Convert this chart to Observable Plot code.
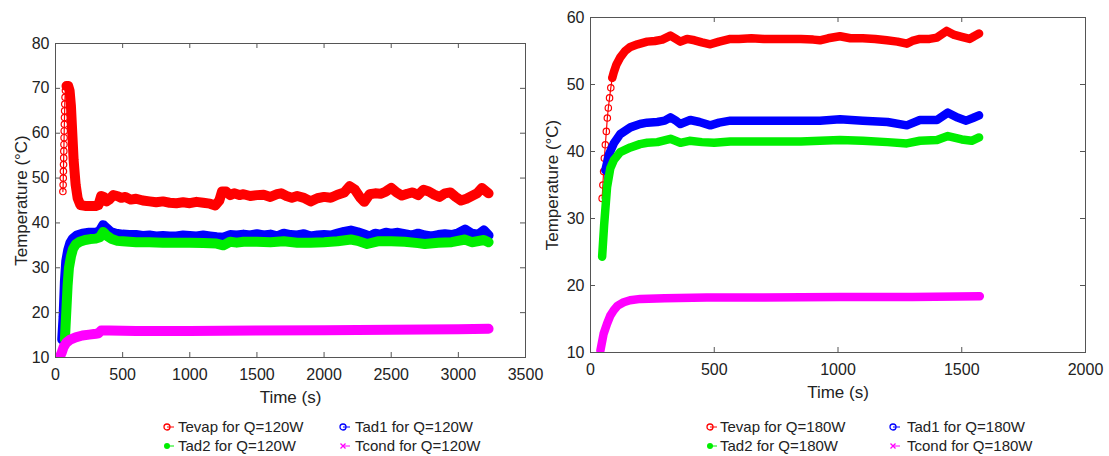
<!DOCTYPE html>
<html><head><meta charset="utf-8">
<script src="https://cdn.jsdelivr.net/npm/d3@7"></script>
<script src="https://cdn.jsdelivr.net/npm/@observablehq/plot@0.6"></script>
<style>
body{margin:0;background:#fff;font-family:"Liberation Sans",Arial,sans-serif;}
#wrap{position:relative;width:1109px;height:456px;overflow:hidden;background:#fff}
.chart{position:absolute;top:0}
.leg{position:absolute;font-size:15px;color:#222;white-space:nowrap;height:18px;line-height:18px}
.leg svg{position:absolute;left:0;top:3px}
.leg span{position:absolute;top:0}
</style></head>
<body><div id="wrap"></div>
<script>
// ---------- Left chart: Q = 120 W ----------
const xTicks120 = [0, 500, 1000, 1500, 2000, 2500, 3000, 3500];
const yTicks120 = [10, 20, 30, 40, 50, 60, 70, 80];
const tevapRise120 = [[55,47],[57,48.5],[58,50],[59,51.5],[60,53],[61,54.5],[62,56],[63,57.5],[64,59],[65,60.5],[66,62],[67,63.5],[68,65],[69,66.5],[71,68],[74,69.5],[78,70.5]];
const tevap120 = [[82,70.5],[95,70.5],[105,69.5],[115,66],[125,60],[135,54],[150,48.5],[165,45.5],[185,44],[220,43.8],[260,43.8],[300,43.8],[320,44],[340,46],[360,45.8],[380,44.8],[400,45.2],[430,46.2],[460,46],[490,45.6],[520,45.8],[560,45.2],[600,45.4],[650,45],[700,44.8],[750,44.6],[800,44.8],[850,44.5],[900,44.4],[950,44.6],[1000,44.4],[1050,44.7],[1100,44.5],[1150,44.3],[1190,43.9],[1220,45],[1240,47],[1270,47],[1300,46.2],[1330,46.6],[1370,46.2],[1400,46.4],[1450,46],[1500,46.2],[1550,46.3],[1600,45.8],[1650,46.4],[1680,46.6],[1720,46],[1760,45.6],[1800,46],[1850,45.6],[1900,44.8],[1950,45.5],[2000,45.8],[2050,45.6],[2100,46.3],[2150,46.8],[2190,48.2],[2230,47.4],[2270,45.6],[2300,44.7],[2340,46.4],[2380,46.6],[2420,46.5],[2460,47],[2500,47.8],[2540,46.8],[2580,46.1],[2620,46.5],[2660,46.8],[2700,46.2],[2740,47.4],[2780,47],[2820,46.3],[2860,45.8],[2900,46.6],[2940,46.8],[2980,45.8],[3020,45],[3060,45.4],[3100,46],[3140,46.6],[3175,47.8],[3200,47.2],[3225,46.6]];
const tad1_120 = [[50,14],[60,19],[70,27],[80,31.5],[95,34],[110,35.5],[130,36.5],[160,37.2],[200,37.6],[250,37.8],[300,37.8],[330,38.2],[355,39.5],[380,38.8],[410,38],[450,37.6],[500,37.4],[550,37.3],[600,37.3],[650,37.1],[700,37.2],[750,37],[800,37.1],[850,37],[900,37],[950,37.2],[1000,37.1],[1050,37],[1100,37.2],[1150,37],[1200,36.8],[1250,36.7],[1300,37.3],[1350,37.2],[1400,37.4],[1450,37.2],[1500,37.5],[1550,37.2],[1600,37.4],[1650,37],[1700,37.6],[1750,37.3],[1800,37.2],[1850,37.5],[1900,37],[1950,37.2],[2000,37.3],[2050,37.2],[2100,37.6],[2150,38],[2200,38.3],[2250,37.9],[2300,37.4],[2340,37],[2380,37.6],[2420,37.4],[2460,37.8],[2500,37.6],[2550,37.8],[2600,37.5],[2650,37.2],[2700,37.6],[2750,37.2],[2800,37],[2850,37.3],[2900,37.5],[2950,37.3],[3000,37.7],[3050,38.5],[3100,37.6],[3150,37.4],[3190,38.3],[3225,37.2]];
const tad2_120 = [[70,14],[80,20],[90,26],[100,30],[115,32.5],[130,34.2],[150,35.2],[180,35.8],[220,36.2],[260,36.4],[300,36.5],[330,36.8],[355,38],[380,37.2],[420,36.4],[460,36],[500,35.9],[550,35.8],[600,35.7],[700,35.7],[800,35.6],[900,35.6],[1000,35.6],[1100,35.5],[1200,35.4],[1250,35],[1300,35.8],[1350,35.6],[1400,35.8],[1500,35.8],[1600,35.7],[1700,35.9],[1800,35.6],[1900,35.6],[2000,35.7],[2100,35.9],[2200,36.3],[2250,36],[2320,35.3],[2400,35.9],[2500,35.9],[2600,35.8],[2700,35.5],[2750,35.3],[2850,35.6],[2950,35.7],[3050,36.3],[3100,35.7],[3190,36.2],[3225,35.7]];
const tcond120 = [[30,10],[45,11],[60,12.3],[80,13.3],[110,14],[150,14.5],[200,14.9],[250,15.1],[300,15.3],[320,15.4],[340,16],[400,16],[600,15.9],[1000,15.9],[1500,16],[2000,16.1],[2500,16.2],[3000,16.3],[3225,16.4]];

// ---------- Right chart: Q = 180 W ----------
const xTicks180 = [0, 500, 1000, 1500, 2000];
const yTicks180 = [10, 20, 30, 40, 50, 60];
const tevapRise180 = [[47,33],[50,35],[53,37],[56,39],[60,41],[64,43],[68,45],[72,46.5],[77,48],[82,49.5],[88,51]];
const tevap180 = [[88,51],[94,51.8],[105,53],[121,54.1],[140,55],[161,55.6],[190,56],[229,56.4],[260,56.5],[290,56.7],[323,57.3],[345,56.8],[363,56.4],[390,56.8],[420,56.6],[450,56.3],[484,56],[520,56.4],[565,56.8],[600,56.8],[650,56.9],[700,56.8],[750,56.8],[800,56.8],[850,56.8],[900,56.7],[927,56.6],[960,56.9],[1008,57.2],[1050,56.9],[1100,56.9],[1150,56.8],[1197,56.6],[1240,56.4],[1278,56.1],[1300,56.5],[1331,56.8],[1370,56.8],[1400,57],[1439,58],[1470,57.4],[1500,57.1],[1532,56.8],[1550,57.2],[1570,57.6]];
const tad1Rise180 = [[40,25.7],[50,32],[60,37.2]];
const tad1_180 = [[60,37.2],[75,39.6],[94,41.2],[120,42.6],[161,43.6],[200,44.1],[229,44.3],[270,44.4],[300,44.6],[323,45.1],[345,44.6],[363,44.1],[403,44.7],[440,44.4],[484,43.9],[520,44.3],[565,44.6],[650,44.6],[750,44.6],[850,44.6],[927,44.6],[1008,44.8],[1100,44.6],[1200,44.4],[1278,43.9],[1331,44.7],[1400,44.7],[1444,45.8],[1480,45.1],[1518,44.6],[1545,45],[1570,45.4]];
const tad2_180 = [[47,24.3],[55,29],[67,34.7],[80,37.5],[94,38.7],[120,39.9],[161,40.6],[200,41.1],[229,41.3],[270,41.4],[323,41.9],[363,41.3],[400,41.6],[450,41.4],[500,41.3],[565,41.5],[650,41.5],[750,41.5],[850,41.5],[927,41.6],[1008,41.7],[1100,41.6],[1200,41.4],[1278,41.2],[1331,41.6],[1400,41.7],[1444,42.3],[1500,41.8],[1540,41.6],[1570,42.1]];
const tcond180 = [[40,10.3],[53,12.8],[67,14.3],[80,15.5],[94,16.3],[110,17],[134,17.5],[160,17.8],[202,18],[300,18.1],[470,18.2],[700,18.2],[1008,18.3],[1300,18.3],[1573,18.4]];

const legend120 = ["Tevap for Q=120W", "Tad1 for Q=120W", "Tad2 for Q=120W", "Tcond for Q=120W"];
const legend180 = ["Tevap for Q=180W", "Tad1 for Q=180W", "Tad2 for Q=180W", "Tcond for Q=180W"];

const RED = "#ff0000", BLUE = "#0000ff", GREEN = "#00ee00", MAG = "#ff00ff";
const X = d => d[0], Y = d => d[1];

function makeChart(o) {
  const pw = o.width - o.ml - o.mr, ph = o.height - o.mt - o.mb;
  const fc = "#555";
  const marks = [];
  for (const s of o.series) {
    if (s.rise) {
      marks.push(Plot.line(s.rise, {x: X, y: Y, stroke: s.color, strokeWidth: 1.2, clip: true}));
      if (s.dots) marks.push(Plot.dot(s.rise, {x: X, y: Y, r: 3.2, stroke: s.color, strokeWidth: 1.2, clip: true}));
    }
    marks.push(Plot.line(s.band, {x: X, y: Y, stroke: s.color, strokeWidth: o.sw, strokeLinejoin: "round", strokeLinecap: "round", clip: true}));
  }
  marks.push(
    Plot.frame({stroke: fc}),
    Plot.tickX(o.xTicks, {x: d => d, insetTop: ph - 5, stroke: fc}),
    Plot.tickX(o.xTicks, {x: d => d, insetBottom: ph - 5, stroke: fc}),
    Plot.tickY(o.yTicks, {y: d => d, insetRight: pw - 5, stroke: fc}),
    Plot.tickY(o.yTicks, {y: d => d, insetLeft: pw - 5, stroke: fc}),
    Plot.axisX({ticks: o.xTicks, tickSize: 0, tickPadding: 11, fontSize: 16, tickFormat: d => String(d), label: null}),
    Plot.axisY({ticks: o.yTicks, tickSize: 0, tickPadding: 6, fontSize: 16, tickFormat: d => String(d), label: null}),
    Plot.axisX({ticks: [], tickSize: 0, fontSize: 17,
      label: "Time (s)", labelAnchor: "center", labelArrow: "none", labelOffset: 45}),
    Plot.axisY({ticks: [], tickSize: 0, fontSize: 17,
      label: "Temperature (°C)", labelAnchor: "center", labelArrow: "none", labelOffset: o.ylo})
  );
  const svg = Plot.plot({
    width: o.width, height: o.height,
    marginLeft: o.ml, marginRight: o.mr, marginTop: o.mt, marginBottom: o.mb,
    x: {domain: o.xDomain}, y: {domain: o.yDomain},
    style: {fontFamily: "'Liberation Sans', Arial, sans-serif", color: "#222", background: "transparent", overflow: "visible"},
    marks
  });
  svg.classList.add("chart");
  svg.style.left = o.left + "px";
  return svg;
}

const wrap = document.getElementById("wrap");
wrap.appendChild(makeChart({
  left: 0, width: 560, height: 405, ml: 55, mr: 35, mt: 43, mb: 48, sw: 10, ylo: 41,
  xDomain: [0, 3500], yDomain: [10, 80], xTicks: xTicks120, yTicks: yTicks120,
  series: [
    {band: tevap120, rise: tevapRise120, dots: true, color: RED},
    {band: tad1_120, color: BLUE},
    {band: tad2_120, color: GREEN},
    {band: tcond120, color: MAG}
  ]
}));
wrap.appendChild(makeChart({
  left: 540, width: 569, height: 405, ml: 50, mr: 24, mt: 17, mb: 53, sw: 8.5, ylo: 45,
  xDomain: [0, 2000], yDomain: [10, 60], xTicks: xTicks180, yTicks: yTicks180,
  series: [
    {band: tevap180, rise: tevapRise180, dots: true, color: RED},
    {band: tad1_180, rise: tad1Rise180, color: BLUE},
    {band: tad2_180, color: GREEN},
    {band: tcond180, color: MAG}
  ]
}));

// legends
function markerSVG(kind, color) {
  let m = "";
  if (kind === "o") m = `<circle cx="4" cy="6" r="3" fill="none" stroke="${color}" stroke-width="1.3"/>`;
  if (kind === "dot") m = `<circle cx="4" cy="6" r="3" fill="${color}"/>`;
  if (kind === "x") m = `<path d="M1.5 3.5L6.5 8.5M6.5 3.5L1.5 8.5" stroke="${color}" stroke-width="1.3"/>`;
  return `<svg width="14" height="12"><line x1="4" y1="6" x2="11" y2="6" stroke="${color}" stroke-width="1"/>${m}</svg>`;
}
function addLegend(labels, cols, rows) {
  const kinds = [["o", RED], ["o", BLUE], ["dot", GREEN], ["x", MAG]];
  labels.forEach((lab, i) => {
    const c = cols[i % 2], r = rows[Math.floor(i / 2)];
    const div = document.createElement("div");
    div.className = "leg";
    div.style.left = (c.m - 4) + "px";
    div.style.top = (r - 9) + "px";
    div.innerHTML = markerSVG(kinds[i][0], kinds[i][1]) + `<span style="left:${c.t - c.m + 4}px">${lab}</span>`;
    wrap.appendChild(div);
  });
}
addLegend(legend120, [{m: 167, t: 178}, {m: 343, t: 355}], [427, 446]);
addLegend(legend180, [{m: 710, t: 720}, {m: 893, t: 907}], [427, 446]);
</script>
</body></html>
